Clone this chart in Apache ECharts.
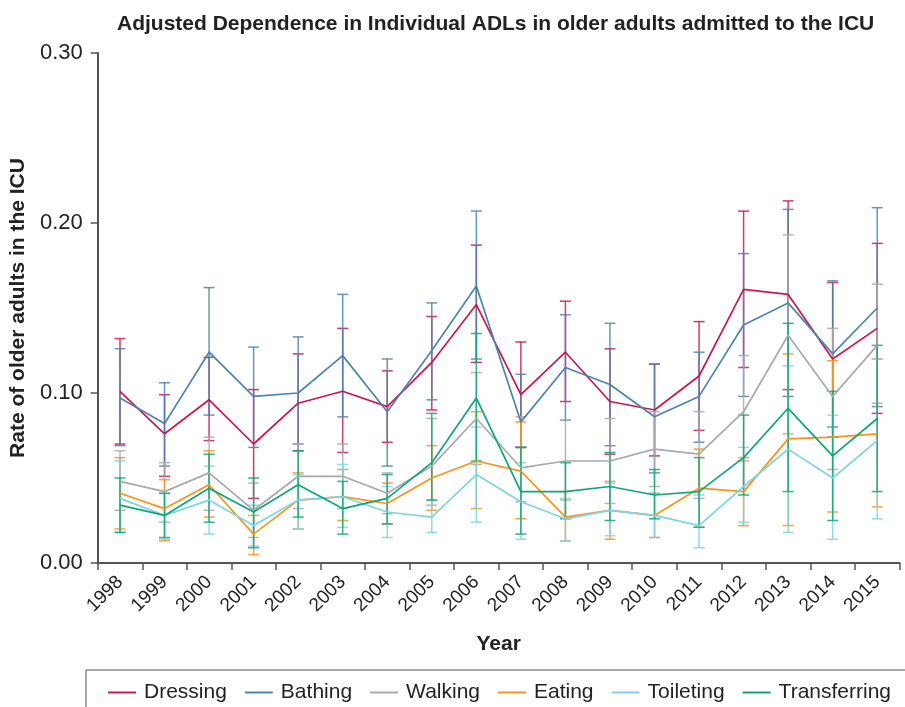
<!DOCTYPE html>
<html>
<head>
<meta charset="utf-8">
<script src="https://cdn.jsdelivr.net/npm/echarts@6/dist/echarts.min.js"></script>
<style>
  html, body { margin: 0; padding: 0; background: #fff; }
  #chart { width: 905px; height: 707px; }
</style>
</head>
<body>
<div id="chart"></div>
<script>
// Survey years on the category axis
const years = ['1998','1999','2000','2001','2002','2003','2004','2005','2006','2007','2008','2009','2010','2011','2012','2013','2014','2015'];

// Y-axis tick values
const yTicks = [0, 0.1, 0.2, 0.3];

// Adjusted rates per ADL, with lower / upper confidence limits
const dressing      = [0.101, 0.076, 0.096, 0.070, 0.094, 0.101, 0.092, 0.118, 0.152, 0.099, 0.124, 0.095, 0.090, 0.110, 0.161, 0.158, 0.120, 0.138];
const dressingLow   = [0.070, 0.051, 0.072, 0.038, 0.066, 0.065, 0.071, 0.090, 0.118, 0.068, 0.095, 0.064, 0.063, 0.078, 0.115, 0.102, 0.074, 0.088];
const dressingHigh  = [0.132, 0.099, 0.121, 0.102, 0.123, 0.138, 0.113, 0.145, 0.187, 0.130, 0.154, 0.126, 0.117, 0.142, 0.207, 0.213, 0.165, 0.188];

const bathing       = [0.097, 0.082, 0.124, 0.098, 0.100, 0.122, 0.089, 0.125, 0.163, 0.083, 0.115, 0.105, 0.086, 0.098, 0.140, 0.153, 0.123, 0.150];
const bathingLow    = [0.069, 0.057, 0.087, 0.068, 0.070, 0.086, 0.057, 0.096, 0.120, 0.068, 0.084, 0.069, 0.053, 0.071, 0.098, 0.098, 0.080, 0.092];
const bathingHigh   = [0.126, 0.106, 0.162, 0.127, 0.133, 0.158, 0.120, 0.153, 0.207, 0.111, 0.146, 0.141, 0.117, 0.124, 0.182, 0.208, 0.166, 0.209];

const walking       = [0.048, 0.042, 0.053, 0.031, 0.051, 0.051, 0.041, 0.057, 0.085, 0.056, 0.060, 0.060, 0.067, 0.064, 0.089, 0.134, 0.098, 0.128];
const walkingLow    = [0.031, 0.024, 0.031, 0.015, 0.032, 0.032, 0.029, 0.034, 0.058, 0.036, 0.037, 0.035, 0.045, 0.038, 0.060, 0.076, 0.055, 0.094];
const walkingHigh   = [0.066, 0.059, 0.074, 0.047, 0.070, 0.070, 0.053, 0.085, 0.112, 0.086, 0.084, 0.085, 0.089, 0.089, 0.122, 0.193, 0.138, 0.164];

const eating        = [0.041, 0.032, 0.046, 0.017, 0.037, 0.039, 0.035, 0.050, 0.060, 0.054, 0.027, 0.031, 0.028, 0.044, 0.042, 0.073, 0.074, 0.076];
const eatingLow     = [0.020, 0.013, 0.027, 0.005, 0.020, 0.025, 0.023, 0.031, 0.032, 0.026, 0.013, 0.014, 0.015, 0.021, 0.022, 0.022, 0.030, 0.033];
const eatingHigh    = [0.062, 0.049, 0.066, 0.028, 0.053, 0.055, 0.047, 0.069, 0.089, 0.083, 0.042, 0.048, 0.041, 0.067, 0.062, 0.123, 0.119, 0.120];

const toileting     = [0.038, 0.028, 0.037, 0.022, 0.037, 0.039, 0.030, 0.027, 0.052, 0.036, 0.026, 0.031, 0.028, 0.022, 0.045, 0.067, 0.050, 0.072];
const toiletingLow  = [0.018, 0.014, 0.017, 0.010, 0.020, 0.021, 0.015, 0.018, 0.024, 0.014, 0.013, 0.016, 0.015, 0.009, 0.024, 0.018, 0.014, 0.026];
const toiletingHigh = [0.060, 0.041, 0.057, 0.034, 0.052, 0.058, 0.045, 0.037, 0.080, 0.059, 0.038, 0.047, 0.041, 0.040, 0.068, 0.116, 0.087, 0.120];

const transferring     = [0.034, 0.028, 0.044, 0.030, 0.046, 0.032, 0.038, 0.059, 0.097, 0.042, 0.042, 0.045, 0.040, 0.042, 0.062, 0.091, 0.063, 0.085];
const transferringLow  = [0.018, 0.015, 0.024, 0.009, 0.027, 0.017, 0.023, 0.037, 0.060, 0.017, 0.026, 0.025, 0.026, 0.021, 0.040, 0.042, 0.025, 0.042];
const transferringHigh = [0.050, 0.041, 0.064, 0.050, 0.066, 0.048, 0.052, 0.088, 0.135, 0.068, 0.059, 0.065, 0.055, 0.062, 0.087, 0.141, 0.101, 0.128];

const groups = [
  { name: 'Dressing',     color: '#c8194f', mid: dressing,     low: dressingLow,     high: dressingHigh },
  { name: 'Bathing',      color: '#4d84ae', mid: bathing,      low: bathingLow,      high: bathingHigh },
  { name: 'Walking',      color: '#a9a9a9', mid: walking,      low: walkingLow,      high: walkingHigh },
  { name: 'Eating',       color: '#f7941d', mid: eating,       low: eatingLow,       high: eatingHigh },
  { name: 'Toileting',    color: '#7fd3e5', mid: toileting,    low: toiletingLow,    high: toiletingHigh },
  { name: 'Transferring', color: '#10a57b', mid: transferring, low: transferringLow, high: transferringHigh }
];

const FONT = '"Liberation Sans", Arial, Helvetica, sans-serif';

// Vertical error bar with short caps at both ends
function errorBar(color) {
  return function (params, api) {
    const lo = api.coord([api.value(0), api.value(1)]);
    const hi = api.coord([api.value(0), api.value(2)]);
    const half = 5.5;
    const st = { stroke: color, lineWidth: 1.5, opacity: 0.85 };
    return {
      type: 'group',
      children: [
        { type: 'line', shape: { x1: lo[0], y1: lo[1], x2: hi[0], y2: hi[1] }, style: st },
        { type: 'line', shape: { x1: lo[0] - half, y1: lo[1], x2: lo[0] + half, y2: lo[1] }, style: st },
        { type: 'line', shape: { x1: hi[0] - half, y1: hi[1], x2: hi[0] + half, y2: hi[1] }, style: st }
      ]
    };
  };
}

const series = [];
groups.forEach(g => {
  series.push({
    name: g.name,
    type: 'custom',
    renderItem: errorBar(g.color),
    encode: { x: 0, y: [1, 2] },
    data: g.low.map((v, i) => [i, v, g.high[i]]),
    itemStyle: { color: g.color },
    silent: true,
    z: 2
  });
});
groups.forEach(g => {
  series.push({
    name: g.name,
    type: 'line',
    data: g.mid,
    symbol: 'none',
    color: g.color,
    lineStyle: { width: 1.7, color: g.color },
    z: 3
  });
});

const chart = echarts.init(document.getElementById('chart'), null, { renderer: 'canvas' });
chart.setOption({
  animation: false,
  backgroundColor: '#fff',
  color: groups.map(g => g.color),
  title: {
    text: 'Adjusted Dependence in Individual ADLs in older adults admitted to the ICU',
    left: 112,
    top: 9,
    textStyle: { fontFamily: FONT, fontSize: 21, fontWeight: 'bold', color: '#222' }
  },
  grid: { left: 96.5, right: 5.5, top: 53, bottom: 144, containLabel: false },
  legend: {
    data: groups.map(g => ({ name: g.name, icon: 'rect' })),
    left: 103,
    top: 677,
    itemWidth: 28,
    itemHeight: 2,
    itemGap: 18,
    textStyle: { fontFamily: FONT, fontSize: 21, color: '#222', padding: [0, 0, 0, 3] }
  },
  graphic: [{
    type: 'rect',
    shape: { x: 86, y: 670, width: 900, height: 60 },
    style: { fill: 'none', stroke: '#555', lineWidth: 1 },
    silent: true
  }],
  xAxis: {
    type: 'category',
    data: years,
    boundaryGap: true,
    name: 'Year',
    nameLocation: 'middle',
    nameGap: 71,
    nameTextStyle: { fontFamily: FONT, fontSize: 21, fontWeight: 'bold', color: '#222' },
    axisLine: { lineStyle: { color: '#555', width: 2 } },
    axisTick: { show: true, length: 7, lineStyle: { color: '#555', width: 1.5 } },
    axisLabel: { interval: 0, rotate: 45, margin: 16, fontFamily: FONT, fontSize: 19, color: '#222' },
    splitLine: { show: false }
  },
  yAxis: {
    type: 'value',
    min: yTicks[0],
    max: yTicks[yTicks.length - 1],
    interval: 0.1,
    name: 'Rate of older adults in the ICU',
    nameLocation: 'middle',
    nameRotate: 90,
    nameGap: 64,
    nameTextStyle: { fontFamily: FONT, fontSize: 21, fontWeight: 'bold', color: '#222' },
    axisLine: { show: true, lineStyle: { color: '#555', width: 2 } },
    axisTick: { show: true, length: 7, lineStyle: { color: '#555', width: 1.5 } },
    axisLabel: { formatter: v => v.toFixed(2), margin: 15, fontFamily: FONT, fontSize: 22, color: '#222' },
    splitLine: { show: false }
  },
  series: series
});
</script>
</body>
</html>
